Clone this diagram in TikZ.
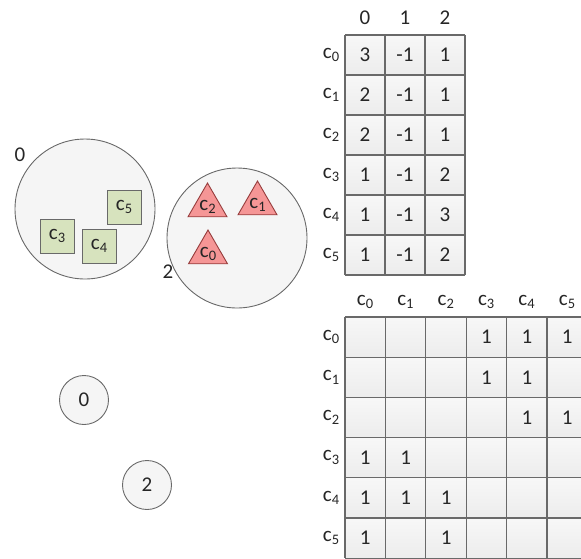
\documentclass[tikz,border=0pt]{standalone}
\usepackage{fontspec}
\setmainfont{Carlito}
\usetikzlibrary{shapes.geometric}
\definecolor{lineg}{RGB}{105,105,105}
\definecolor{cellf}{RGB}{236,236,236}
\definecolor{greenf}{RGB}{215,227,190}
\definecolor{redf}{RGB}{245,150,150}
\definecolor{redd}{RGB}{150,60,60}
\definecolor{circf}{RGB}{245,245,245}
\newcommand{\cc}[1]{c\raisebox{-3.5pt}{\fontsize{14.5}{14.5}\selectfont #1}}
\begin{document}
\begin{tikzpicture}[x=1pt,y=-1pt,
  every node/.style={font=\fontsize{21}{21}\selectfont, text=black!85},
  cellbox/.style={top color=white!60!cellf, bottom color=cellf,
    minimum width=40pt, minimum height=40pt, inner sep=0pt, outer sep=0pt, anchor=north west},
  mcell/.style={cellbox, minimum width=40.6pt, minimum height=40.4pt},
  gridline/.style={draw=lineg, line width=1.1pt},
  bigcirc/.style={circle, draw=lineg, line width=0.9pt, fill=circf, minimum size=140pt, inner sep=0pt},
  smallcirc/.style={circle, draw=lineg, line width=0.9pt, fill=circf, minimum size=49pt, inner sep=0pt},
  sq/.style={rectangle, draw=lineg, line width=0.9pt, fill=greenf, minimum size=34pt, inner sep=0pt},
  tri/.style={regular polygon, regular polygon sides=3, draw=redd, line width=0.9pt, fill=redf,
    minimum size=45pt, inner sep=0pt},
  lbl/.style={inner sep=0pt}]
\useasboundingbox (0,0) rectangle (581,558);
\begin{scope}
\clip (0,0) rectangle (581,558);
% big circles
\node[bigcirc] (g0) at (85,209) {};
\node[bigcirc] (g2) at (237,238) {};
\node[lbl] (g0l) at (20,155) {0};
\node[lbl] (g2l) at (168,272) {2};
\node[sq] (s5) at (124,207) {\cc{5}};
\node[sq] (s3) at (57,236) {\cc{3}};
\node[sq] (s4) at (99,246) {\cc{4}};
\node[tri] (t2) at (207.5,205.5) {};
\node[lbl] at (207.5,207) {\cc{2}};
\node[tri] (t1) at (257.5,203.5) {};
\node[lbl] at (257.5,205) {\cc{1}};
\node[tri] (t0) at (208,252.5) {};
\node[lbl] at (208,254) {\cc{0}};
% small circles
\node[smallcirc] (k0) at (84,400) {0};
\node[smallcirc] (k2) at (147,485) {2};
% top table
\foreach \j/\h in {0/0,1/1,2/2} {
  \node[lbl] (th\j) at (365+40*\j,18) {\h};
}
\foreach \i/\a/\b/\c in {0/3/-1/1,1/2/-1/1,2/2/-1/1,3/1/-1/2,4/1/-1/3,5/1/-1/2} {
  \node[lbl] (tr\i) at (331,55+40*\i) {\cc{\i}};
  \node[cellbox] (t-\i-0) at (345,35+40*\i) {\a};
  \node[cellbox] (t-\i-1) at (385,35+40*\i) {\b};
  \node[cellbox] (t-\i-2) at (425,35+40*\i) {\c};
}
\foreach \j in {0,1,2} {
  \draw[gridline] (t-0-\j.north west) -- (t-5-\j.south west);
}
\draw[gridline] (t-0-2.north east) -- (t-5-2.south east);
\foreach \i in {0,...,5} {
  \draw[gridline] (t-\i-0.north west) -- (t-\i-2.north east);
}
\draw[gridline] (t-5-0.south west) -- (t-5-2.south east);
% bottom matrix
\foreach \j in {0,...,5} {
  \node[lbl] (mh\j) at (365+40.4*\j,302) {\cc{\j}};
}
\foreach \i/\r in {0/{,,,1,1,1},1/{,,,1,1,},2/{,,,,1,1},3/{1,1,,,,},4/{1,1,1,,,},5/{1,,1,,,}} {
  \node[lbl] (mr\i) at (331,337+40.2*\i) {\cc{\i}};
  \foreach \v [count=\j from 0] in \r {
    \node[mcell] (m-\i-\j) at (345+40.4*\j,317+40.2*\i) {\v};
  }
}
\foreach \j in {0,...,5} {
  \draw[gridline] (m-0-\j.north west) -- (m-5-\j.south west);
}
\foreach \i in {0,...,5} {
  \draw[gridline] (m-\i-0.north west) -- (m-\i-5.north east);
}
\draw[gridline] (m-5-0.south west) -- (m-5-5.south east);
\end{scope}
\end{tikzpicture}
\end{document}
